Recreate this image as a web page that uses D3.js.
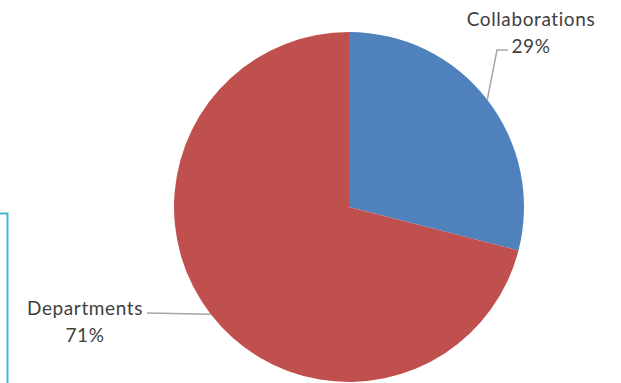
<!DOCTYPE html>
<html>
<head>
<meta charset="utf-8">
<script src="https://d3js.org/d3.v7.min.js"></script>
<style>
body { margin: 0; background: #fff; }
text { font-family: Lato, "Open Sans", sans-serif; fill: #404040; font-size: 19px;
       letter-spacing: 0.6px; font-variant-ligatures: none; }
</style>
</head>
<body>
<div id="chart"></div>
<script>
var labels = ["Collaborations", "Departments"];
var values = [29, 71];
var colors = ["#4f81bd", "#c0504d"];

var w = 621, h = 383,
    cx = 349, cy = 207, r = 175;

var svg = d3.select("#chart").append("svg")
    .attr("width", w).attr("height", h);

// cyan frame fragment at the left edge
svg.append("path")
    .attr("d", "M0,213.5H7.5V383")
    .attr("fill", "none")
    .attr("stroke", "#4bb3cf")
    .attr("stroke-width", 2);

var g = svg.append("g").attr("transform", "translate(" + cx + "," + cy + ")");

var pie = d3.pie().sort(null).value(function(d) { return d; });
var arc = d3.arc().innerRadius(0).outerRadius(r);
var arcs = pie(values);

g.selectAll("path.slice").data(arcs)
  .enter().append("path")
    .attr("class", "slice")
    .attr("d", arc)
    .attr("fill", function(d, i) { return colors[i]; });

// leader lines + labels
var labelPos = [
  { elbow: [148, -157], end: [159, -157], text: [182, -181], anchor: "middle" },
  { elbow: null, end: [-202, 106], text: [-264, 108], anchor: "middle" }
];

arcs.forEach(function(d, i) {
  var a = (d.startAngle + d.endAngle) / 2,
      p0 = [Math.sin(a) * r, -Math.cos(a) * r],
      lp = labelPos[i],
      pts = [p0];
  if (lp.elbow) pts.push(lp.elbow);
  pts.push(lp.end);
  g.append("path")
    .attr("d", d3.line()(pts))
    .attr("fill", "none")
    .attr("stroke", "#a6a6a6")
    .attr("stroke-width", 1.5);
  var t = g.append("text")
    .attr("text-anchor", lp.anchor)
    .attr("x", lp.text[0]).attr("y", lp.text[1]);
  t.append("tspan").attr("x", lp.text[0]).text(labels[i]);
  t.append("tspan").attr("x", lp.text[0]).attr("dy", 27)
    .text(Math.round(d.value / d3.sum(values) * 100) + "%");
});
</script>
</body>
</html>
